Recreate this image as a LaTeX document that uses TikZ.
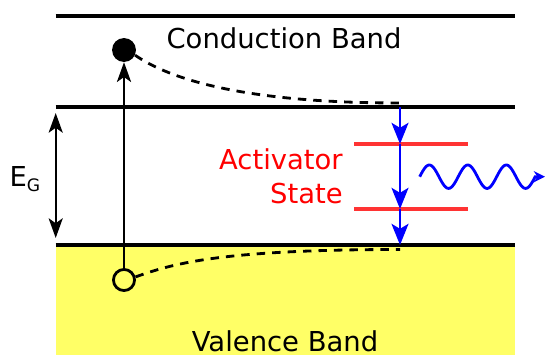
\documentclass[tikz,border=0pt]{standalone}
\usepackage{fontspec}
\setmainfont{DejaVu Sans}
\usetikzlibrary{arrows.meta, positioning, calc}
\definecolor{cYellow}{RGB}{255,255,102}
\definecolor{cRed}{RGB}{255,51,51}
\definecolor{cText}{RGB}{255,0,0}
\definecolor{cBlue}{RGB}{0,0,255}
\tikzset{
	bandline/.style={line width=3pt, draw=black},
	levelline/.style={line width=3pt, draw=cRed},
	bandlabel/.style={font=\fontsize{19.5}{24.2}\selectfont, inner sep=0pt, anchor=base},
	electron/.style={circle, fill=black, minimum size=17pt, inner sep=0pt},
	hole/.style={circle, draw=black, line width=2pt, minimum size=15pt, inner sep=0pt},
	exciteline/.style={-{Stealth[length=14pt, width=10pt, inset=3.5pt]}, line width=2pt},
	gapline/.style={{Stealth[length=14pt, width=10pt, inset=3.5pt]}-{Stealth[length=14pt, width=10pt, inset=3.5pt]}, line width=1.7pt},
	relaxline/.style={dash pattern=on 6pt off 5pt, line width=2pt},
	decayline/.style={-{Stealth[length=15pt, width=12pt, inset=3.5pt]}, line width=2pt, draw=cBlue},
	photonline/.style={-{Stealth[length=8pt, width=8pt]}, line width=2pt, draw=cBlue},
}
\begin{document}
\begin{tikzpicture}[x=0.025cm, y=-0.025cm]
	\useasboundingbox (0,0) rectangle (546,355);
	% valence band fill
	\fill[cYellow] (55.7,245) rectangle (514.6,355);
	% band edges
	\coordinate (cbTopL) at (55.7,16);   \coordinate (cbTopR) at (514.6,16);
	\coordinate (cbBotL) at (55.7,107);  \coordinate (cbBotR) at (514.6,107);
	\coordinate (vbTopL) at (55.7,245);  \coordinate (vbTopR) at (514.6,245);
	\draw[bandline] (cbTopL) -- (cbTopR);
	\draw[bandline] (cbBotL) -- (cbBotR);
	\draw[bandline] (vbTopL) -- (vbTopR);
	\node[bandlabel] (cbLabel) at (284,48.3) {Conduction Band};
	\node[bandlabel] (vbLabel) at (285,351) {Valence Band};
	% band gap
	\coordinate (gapTop) at (55.7,113);
	\coordinate (gapBot) at (55.7,238);
	\draw[gapline] (gapTop) -- (gapBot);
	\node[bandlabel, anchor=base west] (gapLabel) at (9.3,186) {E\raisebox{-4pt}{\fontsize{12.2}{12.2}\selectfont G}};
	% electron and hole
	\node[electron] (electron) at (124,50) {};
	\node[hole] (hole) at (124,280) {};
	\draw[exciteline] (hole) -- (electron);
	\coordinate (cbEdge) at (400,107);
	\coordinate (cbRelax) at (400,103);
	\coordinate (vbRelax) at (400,249.5);
	\draw[relaxline] (electron.-25) .. controls (168,78) and (240,103) .. (cbRelax);
	\draw[relaxline] (hole.15) .. controls (173,263.5) and (221,249.5) .. (vbRelax);
	% activator levels
	\coordinate (actHi) at (400,144);
	\coordinate (actLo) at (400,209);
	\coordinate (vbEdge) at (400,245);
	\draw[levelline] ($(actHi)+(-46,0)$) -- ($(actHi)+(68,0)$);
	\draw[levelline] ($(actLo)+(-46,0)$) -- ($(actLo)+(68,0)$);
	\node[bandlabel, anchor=east, align=right, text=cText] (actLabel) at (343,176.6) {Activator\\State};
	\draw[decayline] (cbEdge) -- (actHi);
	\draw[decayline] (actHi) -- (actLo);
	\draw[decayline] (actLo) -- (vbEdge);
	% emitted light
	\coordinate (photonTip) at (545,176.7);
	\draw[photonline] plot[domain=0:1080, samples=120] ({419.7+\x/360*38.5},{176.7-11.7*sin(\x)}) -- (photonTip);
\end{tikzpicture}
\end{document}
